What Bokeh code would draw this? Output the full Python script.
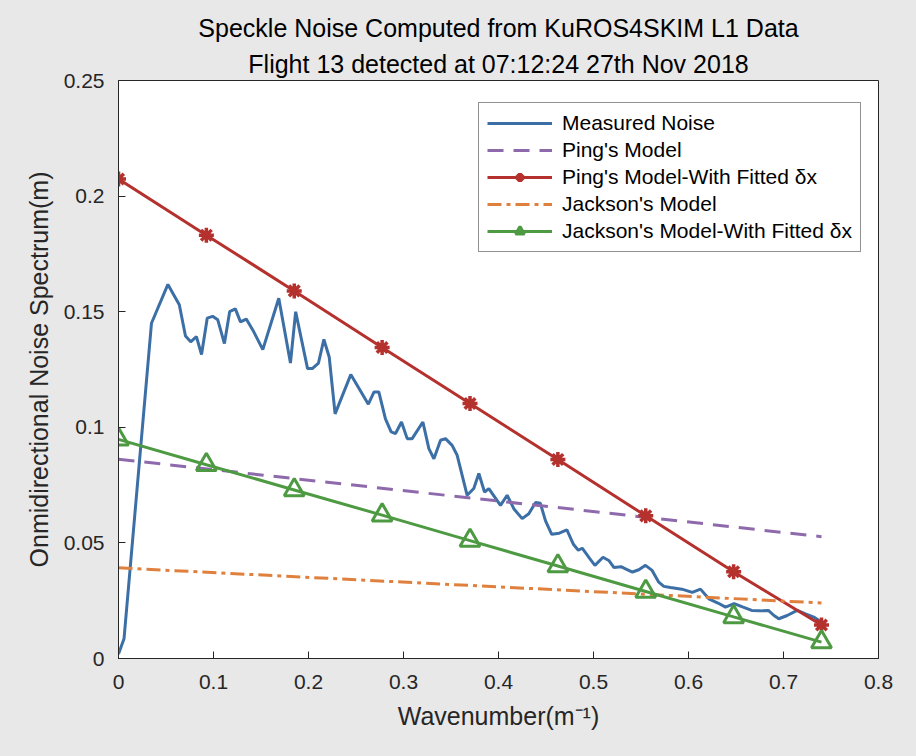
from bokeh.plotting import figure
from bokeh.models import Title, Range1d, FixedTicker, Legend, LegendItem
from bokeh.embed import file_html
from bokeh.resources import INLINE

# ---- data ----
measured_k = [0.000, 0.0058, 0.0347, 0.0520, 0.0640, 0.0705, 0.0760, 0.0820, 0.0874, 0.0934,
              0.0990, 0.1045, 0.1115, 0.1170, 0.1230, 0.1284, 0.1345, 0.1424, 0.1519, 0.1687,
              0.1810, 0.1865, 0.1990, 0.2040, 0.2105, 0.2162, 0.2218, 0.2280, 0.2445, 0.2630,
              0.2690, 0.2740, 0.2810, 0.2870, 0.2916, 0.2979, 0.3039, 0.3091, 0.3204, 0.3267,
              0.3320, 0.3390, 0.3442, 0.3512, 0.3565, 0.3670, 0.3740, 0.3793, 0.3853, 0.3898,
              0.4021, 0.4091, 0.4161, 0.4249, 0.4319, 0.4390, 0.4440, 0.4495, 0.4560, 0.4640,
              0.4720, 0.4790, 0.4840, 0.4881, 0.4961, 0.5015, 0.5100, 0.5161, 0.5214, 0.5290,
              0.5337, 0.5410, 0.5477, 0.5547, 0.5617, 0.5687, 0.5740, 0.5810, 0.5930, 0.6040,
              0.6126, 0.6214, 0.6310, 0.6390, 0.6480, 0.6575, 0.6665, 0.6758, 0.6840, 0.6900,
              0.6950, 0.7039, 0.7144, 0.7232, 0.7319, 0.7400]
measured_noise = [0.0020, 0.0085, 0.1450, 0.1618, 0.1530, 0.1395, 0.1370, 0.1392, 0.1315, 0.1472,
                  0.1480, 0.1465, 0.1362, 0.1500, 0.1512, 0.1456, 0.1468, 0.1413, 0.1336, 0.1558,
                  0.1278, 0.1500, 0.1254, 0.1254, 0.1278, 0.1380, 0.1304, 0.1058, 0.1228, 0.1100,
                  0.1153, 0.1153, 0.1036, 0.0980, 0.0973, 0.1023, 0.0951, 0.0951, 0.1023, 0.0908,
                  0.0864, 0.0944, 0.0951, 0.0922, 0.0879, 0.0706, 0.0735, 0.0800, 0.0720, 0.0735,
                  0.0662, 0.0706, 0.0648, 0.0605, 0.0626, 0.0675, 0.0672, 0.0595, 0.0537, 0.0542,
                  0.0556, 0.0493, 0.0468, 0.0477, 0.0432, 0.0403, 0.0438, 0.0424, 0.0394, 0.0397,
                  0.0388, 0.0374, 0.0384, 0.0403, 0.0381, 0.0330, 0.0312, 0.0307, 0.0300, 0.0286,
                  0.0300, 0.0258, 0.0240, 0.0222, 0.0237, 0.0222, 0.0208, 0.0206, 0.0208, 0.0186,
                  0.0172, 0.0186, 0.0208, 0.0193, 0.0179, 0.0157]

model_k = [0.0, 0.74]
ping_model = [0.0862, 0.0527]
jackson_model = [0.0392, 0.0240]

fit_k = [0.0, 0.0925, 0.185, 0.2775, 0.37, 0.4625, 0.555, 0.6475, 0.74]
ping_fitted = [0.2074, 0.1831, 0.1590, 0.1345, 0.1103, 0.0861, 0.0617, 0.0375, 0.0145]
jackson_fitted = [0.0948, 0.0838, 0.0729, 0.0620, 0.0510, 0.0400, 0.0290, 0.0180, 0.0071]

x_ticks = [0, 0.1, 0.2, 0.3, 0.4, 0.5, 0.6, 0.7, 0.8]
x_tick_labels = ["0", "0.1", "0.2", "0.3", "0.4", "0.5", "0.6", "0.7", "0.8"]
y_ticks = [0, 0.05, 0.1, 0.15, 0.2, 0.25]
y_tick_labels = ["0", "0.05", "0.1", "0.15", "0.2", "0.25"]

title_line1 = "Speckle Noise Computed from KuROS4SKIM L1 Data"
title_line2 = "Flight 13 detected at 07:12:24 27th Nov 2018"

# ---- style ----
FONT = "Liberation Sans"
INK = "#262626"
BG = "#e8e8e8"
C_BLUE = "#3c6fa6"
C_PURPLE = "#8e6aad"
C_RED = "#b5312e"
C_ORANGE = "#e0803e"
C_GREEN = "#4e9a43"

p = figure(output_backend="svg", toolbar_location=None,
           frame_width=760, frame_height=578,
           min_border_left=110, min_border_right=30, min_border_top=72, min_border_bottom=90,
           x_range=Range1d(0, 0.8), y_range=Range1d(0, 0.25))
p.background_fill_color = "white"
p.border_fill_color = BG
p.outline_line_color = INK
p.outline_line_width = 1
p.grid.visible = False

p.title.text = title_line1
p.title.align = "center"
p.title.text_font = FONT
p.title.text_font_size = "25px"
p.title.text_font_style = "normal"
p.title.text_color = "black"
p.title.standoff = 5
t2 = Title(text=title_line2, align="center", text_font=FONT, text_font_size="25px",
           text_font_style="normal", text_color="black", standoff=6)
p.add_layout(t2, "above")

for ax in (p.xaxis[0], p.yaxis[0]):
    ax.axis_line_color = INK
    ax.major_tick_line_color = INK
    ax.major_tick_in = 7
    ax.major_tick_out = 0
    ax.minor_tick_line_color = None
    ax.major_label_text_font = FONT
    ax.major_label_text_font_size = "21px"
    ax.major_label_text_color = INK
    ax.axis_label_text_font = FONT
    ax.axis_label_text_font_size = "25px"
    ax.axis_label_text_font_style = "normal"
    ax.axis_label_text_color = INK

p.xaxis.ticker = FixedTicker(ticks=x_ticks)
p.xaxis.major_label_overrides = dict(zip(x_ticks, x_tick_labels))
p.yaxis.ticker = FixedTicker(ticks=y_ticks)
p.yaxis.major_label_overrides = dict(zip(y_ticks, y_tick_labels))
p.xaxis.axis_label = "Wavenumber(m\u207b\u00b9)"
p.yaxis.axis_label = "Onmidirectional Noise Spectrum(m)"
p.xaxis.major_label_standoff = 16
p.yaxis.major_label_standoff = 14
p.xaxis.axis_label_standoff = 10
p.yaxis.axis_label_standoff = 8

r_meas = p.line(measured_k, measured_noise, line_color=C_BLUE, line_width=3)
r_ping = p.line(model_k, ping_model, line_color=C_PURPLE, line_width=3, line_dash="16 10")
r_pf_l = p.line(fit_k, ping_fitted, line_color=C_RED, line_width=3)
r_pf_m = p.scatter(fit_k, ping_fitted, marker="asterisk", size=15, line_color=C_RED, line_width=3.5)
r_jack = p.line(model_k, jackson_model, line_color=C_ORANGE, line_width=3, line_dash="14 5 4 5")
r_jf_l = p.line(fit_k, jackson_fitted, line_color=C_GREEN, line_width=3)
r_jf_m = p.scatter(fit_k, jackson_fitted, marker="triangle", size=20, line_color=C_GREEN,
                   fill_color="white", fill_alpha=0, line_width=3)

legend = Legend(items=[
    LegendItem(label="Measured Noise", renderers=[r_meas]),
    LegendItem(label="Ping's Model", renderers=[r_ping]),
    LegendItem(label="Ping's Model-With Fitted \u03b4x", renderers=[r_pf_l, r_pf_m]),
    LegendItem(label="Jackson's Model", renderers=[r_jack]),
    LegendItem(label="Jackson's Model-With Fitted \u03b4x", renderers=[r_jf_l, r_jf_m]),
], location=(360, 406))
legend.label_text_font = FONT
legend.label_text_font_size = "21px"
legend.label_text_color = "black"
legend.label_standoff = 10
legend.glyph_width = 65
legend.glyph_height = 22
legend.label_height = 22
legend.spacing = 3
legend.padding = 8
legend.margin = 0
legend.border_line_color = INK
legend.border_line_width = 1
legend.background_fill_color = "white"
legend.background_fill_alpha = 1
p.add_layout(legend)

html = file_html(p, INLINE)
html = html.replace("</head>", "<style>body{background:%s;margin:8px;}</style></head>" % BG, 1)
open("out.html", "w").write(html)
